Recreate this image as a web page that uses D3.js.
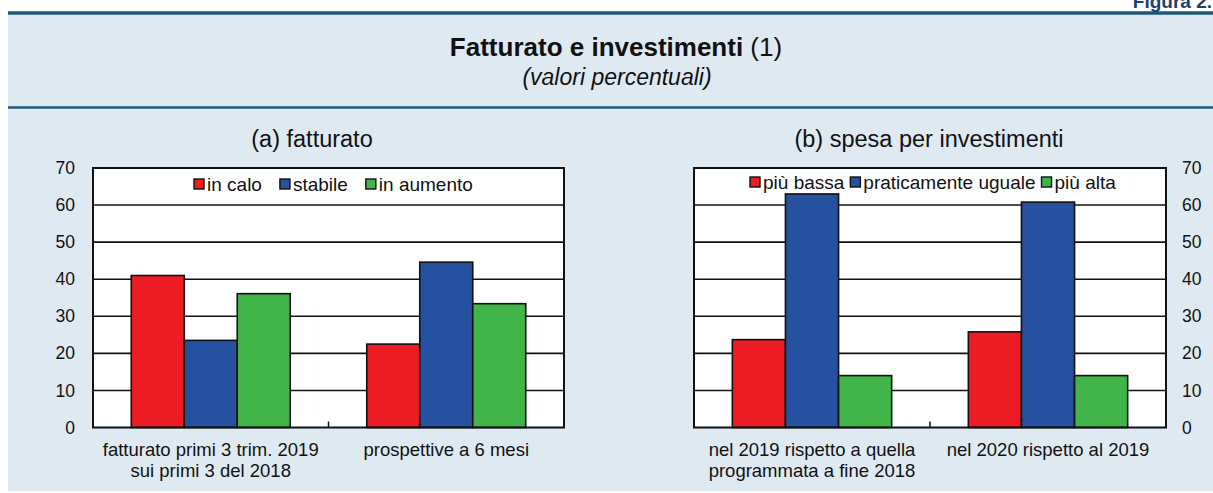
<!DOCTYPE html>
<html><head><meta charset="utf-8">
<script src="https://cdn.jsdelivr.net/npm/d3@7"></script>
<style>
html,body{margin:0;padding:0;background:#fff;}
svg{display:block;font-family:"Liberation Sans",Arial,sans-serif;}
</style></head>
<body>
<svg id="c" width="1213" height="493"></svg>
<script>
// ---- data ----
const yTicks = [0, 10, 20, 30, 40, 50, 60, 70];
const catsA = [["fatturato primi 3 trim. 2019", "sui primi 3 del 2018"], ["prospettive a 6 mesi"]];
const seriesA = ["in calo", "stabile", "in aumento"];
const inCalo = [41, 22.5];
const stabile = [23.5, 44.6];
const inAumento = [36.1, 33.4];

const catsB = [["nel 2019 rispetto a quella", "programmata a fine 2018"], ["nel 2020 rispetto al 2019"]];
const seriesB = ["più bassa", "praticamente uguale", "più alta"];
const piuBassa = [23.7, 25.8];
const uguale = [63.0, 60.8];
const piuAlta = [14, 14];

const colors = ["#ed1c24", "#2650a0", "#41b44a"];

const svg = d3.select("#c");
const W = 1213, H = 493;

// panel background
svg.append("rect").attr("x", 8).attr("y", 13).attr("width", W - 8).attr("height", 478).attr("fill", "#dee9f2");
svg.append("line").attr("x1", 8).attr("x2", W).attr("y1", 13).attr("y2", 13).attr("stroke", "#1e5878").attr("stroke-width", 3.5);
svg.append("line").attr("x1", 8).attr("x2", W).attr("y1", 107.5).attr("y2", 107.5).attr("stroke", "#1e5878").attr("stroke-width", 2.5);

// "Figura 2." (partly cut at top, as in the source)
svg.append("text").attr("x", 1212).attr("y", 8).attr("text-anchor", "end")
  .attr("font-size", 19).attr("font-weight", "bold").attr("fill", "#1f3f6e").text("Figura 2.");

// title
const t = svg.append("text").attr("x", 616).attr("y", 56).attr("text-anchor", "middle").attr("font-size", 26).attr("fill", "#111");
t.append("tspan").attr("font-weight", "bold").text("Fatturato e investimenti ");
t.append("tspan").text("(1)");
svg.append("text").attr("x", 617).attr("y", 85).attr("text-anchor", "middle").attr("font-size", 23)
  .attr("font-style", "italic").attr("fill", "#111").text("(valori percentuali)");

const y = d3.scaleLinear().domain([0, 70]).range([427.5, 168]);

function panel(opts) {
  const {x0, x1, cats, series, values, title, titleX, axisSide} = opts;
  const g = svg.append("g");
  g.append("rect").attr("x", x0).attr("y", y(70)).attr("width", x1 - x0).attr("height", y(0) - y(70)).attr("fill", "#fff");
  // gridlines
  g.selectAll(".grid").data(yTicks.filter(d => d > 0 && d < 70)).enter().append("line")
    .attr("x1", x0).attr("x2", x1).attr("y1", d => y(d)).attr("y2", d => y(d))
    .attr("stroke", "#111").attr("stroke-width", 1.6);
  const xc = d3.scaleBand().domain(d3.range(cats.length)).range([x0, x1]).padding(0);
  const gw = xc.bandwidth() * 0.675;
  const xs = d3.scaleBand().domain(series).range([0, gw]).padding(0);
  series.forEach((s, si) => {
    g.selectAll(".b" + si).data(values[si]).enter().append("rect")
      .attr("x", (d, i) => xc(i) + (xc.bandwidth() - gw) / 2 + xs(s))
      .attr("y", d => y(d)).attr("width", xs.bandwidth()).attr("height", d => y(0) - y(d))
      .attr("fill", colors[si]).attr("stroke", "#111").attr("stroke-width", 1.6);
  });
  // box
  g.append("rect").attr("x", x0).attr("y", y(70)).attr("width", x1 - x0).attr("height", y(0) - y(70))
    .attr("fill", "none").attr("stroke", "#111").attr("stroke-width", 2);
  // center tick
  for (let i = 1; i < cats.length; i++) {
    g.append("line").attr("x1", xc(i)).attr("x2", xc(i)).attr("y1", y(0)).attr("y2", y(0) - 6)
      .attr("stroke", "#111").attr("stroke-width", 1.5);
  }
  // y axis labels
  const ax = axisSide === "left" ? d3.axisLeft(y) : d3.axisRight(y);
  ax.tickValues(yTicks).tickSize(0).tickPadding(0).tickFormat(d3.format("d"));
  const ag = g.append("g").attr("transform", `translate(${axisSide === "left" ? x0 - 18 : x1 + 16},0)`).call(ax);
  ag.select(".domain").remove();
  ag.selectAll("text").attr("font-size", 17.5).attr("fill", "#111").attr("font-family", '"Liberation Sans",Arial,sans-serif');
  // category labels
  cats.forEach((lines, i) => {
    const cx = xc(i) + xc.bandwidth() / 2;
    const tx = g.append("text").attr("x", cx).attr("y", 456)
      .attr("text-anchor", "middle").attr("font-size", 18.5).attr("fill", "#111");
    lines.forEach((l, li) => tx.append("tspan").attr("x", cx).attr("dy", li ? 21 : 0).text(l));
  });
  // subtitle
  g.append("text").attr("x", titleX).attr("y", 147).attr("text-anchor", "middle").attr("font-size", 23.5).attr("fill", "#111").text(title);
  // legend
  const lg = g.append("g");
  let lx = opts.legendX;
  series.forEach((s, si) => {
    lg.append("rect").attr("x", lx).attr("y", opts.legendY - 5).attr("width", 10).attr("height", 10)
      .attr("fill", colors[si]).attr("stroke", "#111").attr("stroke-width", 1.4);
    const tt = lg.append("text").attr("x", lx + 13).attr("y", opts.legendY + 6.5).attr("font-size", 19).attr("fill", "#111").text(s);
    lx += 13 + tt.node().getComputedTextLength() + opts.legendGap;
  });
}

panel({x0: 93, x1: 564, cats: catsA, series: seriesA, values: [inCalo, stabile, inAumento],
  title: "(a) fatturato", titleX: 312, axisSide: "left", legendX: 194, legendY: 184, legendGap: 18});
panel({x0: 694, x1: 1166, cats: catsB, series: seriesB, values: [piuBassa, uguale, piuAlta],
  title: "(b) spesa per investimenti", titleX: 929, axisSide: "right", legendX: 750, legendY: 182, legendGap: 6});
</script>
</body></html>
